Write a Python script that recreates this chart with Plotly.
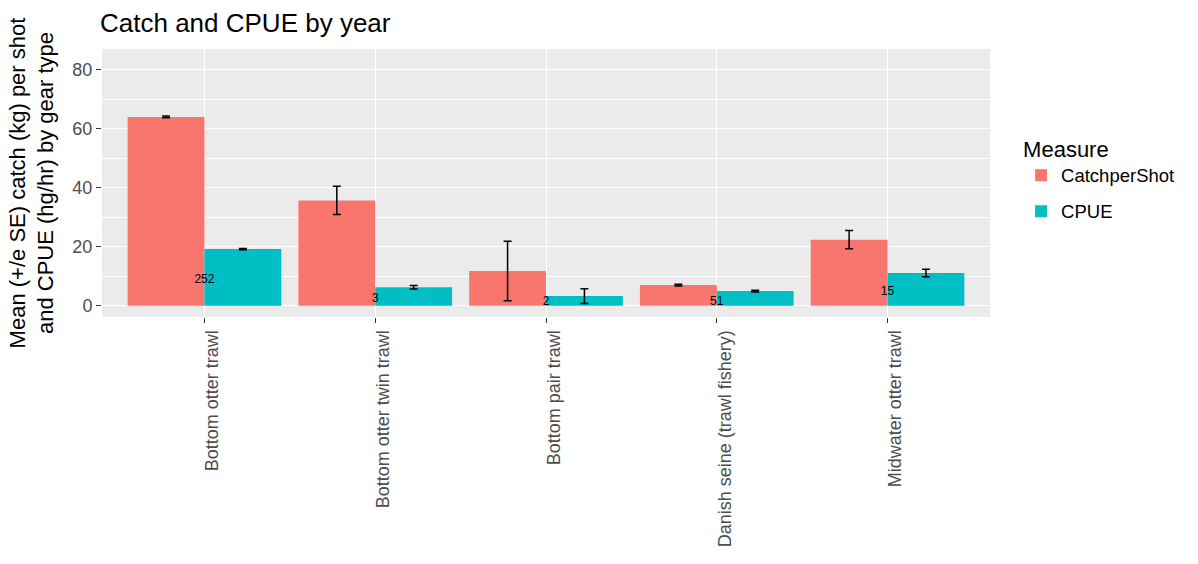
import plotly.graph_objects as go

gear = ["Bottom otter trawl", "Bottom otter twin trawl", "Bottom pair trawl",
        "Danish seine (trawl fishery)", "Midwater otter trawl"]
catch_per_shot = [64.0, 35.7, 11.8, 7.0, 22.4]
catch_se = [0.3, 4.8, 10.1, 0.3, 3.1]
cpue = [19.2, 6.3, 3.3, 5.0, 11.1]
cpue_se = [0.2, 0.6, 2.5, 0.3, 1.3]
n_shots = ["252", "3", "2", "51", "15"]
n_label_y = [8.7, 2.3, 1.2, 1.4, 4.7]

FONT = "Liberation Sans, Arial, sans-serif"
RED = "#F8766D"
TEAL = "#00BFC4"

fig = go.Figure()
fig.add_trace(go.Bar(
    x=gear, y=catch_per_shot, name="CatchperShot", marker_color=RED,
    marker_line_width=0, legendgroup="a",
    error_y=dict(type="data", array=catch_se, color="black", thickness=1.5, width=4),
))
fig.add_trace(go.Bar(
    x=gear, y=cpue, name="CPUE", marker_color=TEAL,
    marker_line_width=0, legendgroup="b",
    error_y=dict(type="data", array=cpue_se, color="black", thickness=1.5, width=4),
))
fig.add_trace(go.Scatter(
    x=gear, y=n_label_y, text=n_shots, mode="text", showlegend=False,
    textfont=dict(family=FONT, size=12, color="black"), textposition="middle center",
    hoverinfo="skip",
))

fig.update_layout(
    width=1198, height=564,
    margin=dict(l=102, r=208, t=49, b=247),
    paper_bgcolor="white",
    plot_bgcolor="#EBEBEB",
    barmode="group", bargap=0.1, bargroupgap=0,
    font=dict(family=FONT, color="black"),
    title=dict(text="Catch and CPUE by year", x=100/1198, xref="container", xanchor="left",
               y=1 - 23/564, yref="container", yanchor="middle",
               font=dict(family=FONT, size=26, color="black")),
    legend=dict(
        title=dict(text="Measure", font=dict(family=FONT, size=22, color="black")),
        font=dict(family=FONT, size=18.5, color="black"),
        x=1.035, xanchor="left", y=0.705, yanchor="top",
        bgcolor="rgba(0,0,0,0)", tracegroupgap=9,
    ),
    showlegend=True,
)
fig.update_xaxes(
    type="category", range=[-0.6, 4.6],
    showgrid=True, gridcolor="white", gridwidth=1.4,
    ticks="outside", ticklen=5, tickcolor="#333333", tickwidth=1.2,
    tickangle=-90, tickfont=dict(family=FONT, size=18, color="#4D4D4D"),
    ticklabelshift=8,
    zeroline=False, showline=False,
)
fig.update_yaxes(
    range=[-3.8, 87.0], tickvals=[0, 20, 40, 60, 80],
    showgrid=True, gridcolor="white", gridwidth=1.4,
    minor=dict(tickvals=[10, 30, 50, 70], showgrid=True, gridcolor="white", gridwidth=0.7, ticks=""),
    ticks="outside", ticklen=5, tickcolor="#333333", tickwidth=1.2,
    tickfont=dict(family=FONT, size=18, color="#4D4D4D"),
    zeroline=False, showline=False,
    title=dict(text="Mean (+/e SE) catch (kg) per shot<br>and CPUE (hg/hr) by gear type",
               font=dict(family=FONT, size=22, color="black"), standoff=12),
)

fig.write_html("out.html")
